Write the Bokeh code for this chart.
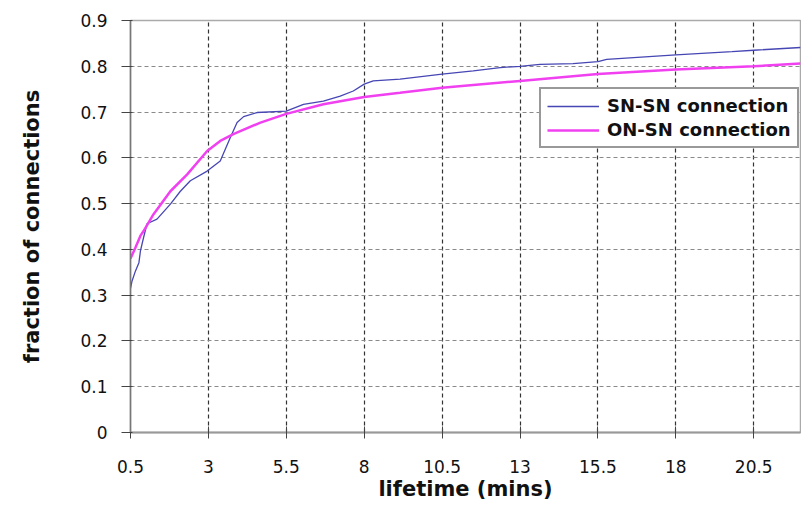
from bokeh.plotting import figure
from bokeh.models import FixedTicker, Range1d
from bokeh.embed import file_html
from bokeh.resources import INLINE

# SN-SN connection (blue)
sn_x = [0.5, 0.55, 0.66, 0.77, 0.82, 0.92, 1.03, 1.35, 1.78, 2.1, 2.42, 2.96, 3.38, 3.7, 3.92,
        4.13, 4.56, 5.5, 6.05, 6.69, 7.23, 7.65, 8.0, 8.29, 9.15, 10.5, 11.5, 12.36, 13.0,
        13.64, 14.7, 15.5, 15.78, 18.0, 19.8, 20.5, 22.0]
sn_y = [0.315, 0.331, 0.353, 0.371, 0.397, 0.426, 0.456, 0.466, 0.499, 0.527, 0.55, 0.571,
        0.593, 0.644, 0.677, 0.69, 0.699, 0.702, 0.717, 0.724, 0.735, 0.746, 0.761, 0.768,
        0.772, 0.783, 0.79, 0.797, 0.80, 0.804, 0.806, 0.81, 0.815, 0.825, 0.832, 0.835, 0.841]

# ON-SN connection (magenta)
on_x = [0.5, 0.66, 0.82, 0.92, 1.24, 1.78, 2.32, 2.96, 3.38, 3.80, 4.67, 5.5, 6.69, 8.0,
        9.15, 10.5, 13.0, 15.5, 18.0, 20.5, 22.0]
on_y = [0.38, 0.404, 0.43, 0.44, 0.477, 0.527, 0.564, 0.615, 0.637, 0.652, 0.677, 0.696,
        0.717, 0.733, 0.742, 0.753, 0.768, 0.783, 0.793, 0.80, 0.806]

x_ticks = [0.5, 3, 5.5, 8, 10.5, 13, 15.5, 18, 20.5]
x_tick_labels = ["0.5", "3", "5.5", "8", "10.5", "13", "15.5", "18", "20.5"]
y_ticks = [0, 0.1, 0.2, 0.3, 0.4, 0.5, 0.6, 0.7, 0.8, 0.9]
y_tick_labels = ["0", "0.1", "0.2", "0.3", "0.4", "0.5", "0.6", "0.7", "0.8", "0.9"]

p = figure(width=801, height=512, output_backend="svg", toolbar_location=None,
           x_range=Range1d(0.5, 22.0), y_range=Range1d(0, 0.9),
           min_border_left=130, min_border_right=1, min_border_top=20, min_border_bottom=80)
p.background_fill_color = "white"
p.border_fill_color = "white"
p.outline_line_color = "#aaaaaa"
p.outline_line_width = 1.5

p.line(sn_x, sn_y, line_color="#4646b4", line_width=1.3, legend_label="SN-SN connection")
p.line(on_x, on_y, line_color="#f040f0", line_width=2.5, legend_label="ON-SN connection")

p.xaxis.ticker = FixedTicker(ticks=x_ticks)
p.xaxis.major_label_overrides = {t: l for t, l in zip(x_ticks, x_tick_labels)}
p.yaxis.ticker = FixedTicker(ticks=y_ticks)
p.yaxis.major_label_overrides = {t: l for t, l in zip(y_ticks, y_tick_labels)}
p.xaxis.minor_tick_line_color = None
p.yaxis.minor_tick_line_color = None

for ax in (p.xaxis, p.yaxis):
    ax.major_label_text_font = "DejaVu Sans"
    ax.major_label_text_font_size = "17px"
    ax.major_label_text_color = "#111111"
    ax.axis_label_text_font = "DejaVu Sans"
    ax.axis_label_text_font_size = "21px"
    ax.axis_label_text_font_style = "bold"
    ax.axis_label_text_color = "#111111"
    ax.major_tick_line_color = "#444444"

p.xaxis.axis_label = "lifetime (mins)"
p.yaxis.axis_label = "fraction of connections"
p.xaxis.axis_line_color = "#999999"
p.xaxis.axis_line_width = 2
p.yaxis.axis_line_color = "#777777"
p.yaxis.axis_line_width = 1.5
p.xaxis.major_tick_in = 6
p.xaxis.major_tick_out = 6
p.yaxis.major_tick_in = 2
p.yaxis.major_tick_out = 9
p.xaxis.major_label_standoff = 21
p.yaxis.major_label_standoff = 14
p.xaxis.axis_label_standoff = 1
p.yaxis.axis_label_standoff = 33

p.xgrid.grid_line_color = "#333333"
p.xgrid.grid_line_dash = "4 3"
p.xgrid.grid_line_width = 1.2
p.ygrid.grid_line_color = "#8a8a8a"
p.ygrid.grid_line_dash = "4 3"
p.ygrid.grid_line_width = 1.2

lg = p.legend[0]
lg.location = (409, 284)
lg.border_line_color = "#333333"
lg.border_line_width = 2
lg.label_text_font = "DejaVu Sans"
lg.label_text_font_style = "bold"
lg.label_text_font_size = "18px"
lg.label_text_color = "#111111"
lg.glyph_width = 52
lg.label_standoff = 8
lg.padding = 6
lg.spacing = 3
lg.margin = 0
lg.background_fill_alpha = 1.0

open("out.html", "w").write(file_html(p, INLINE))
